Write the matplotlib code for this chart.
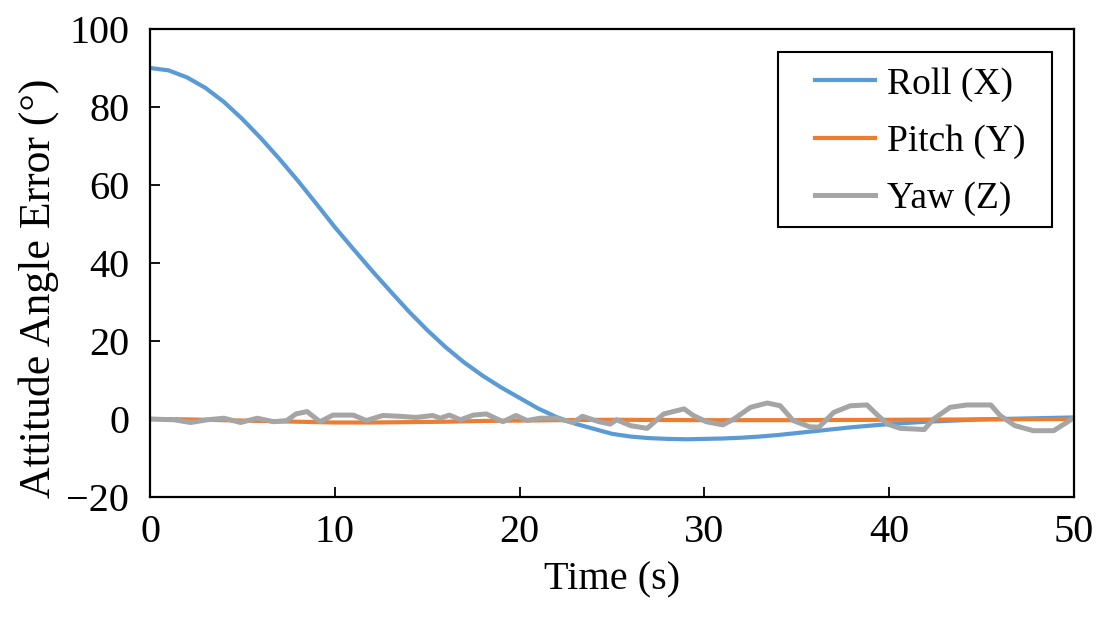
import matplotlib.pyplot as plt
from matplotlib.patches import Rectangle
from matplotlib.transforms import IdentityTransform
import numpy as np

plt.rcParams['font.family'] = ['Liberation Serif', 'DejaVu Serif']

# ---- datos ----
t_roll = np.arange(0, 51)
roll = [90.0, 89.4, 87.6, 84.9, 81.3, 76.9, 72.0, 66.7, 61.1, 55.2,
        49.2, 43.6, 38.1, 32.8, 27.6, 22.8, 18.4, 14.5, 11.1, 8.1,
        5.4, 2.7, 0.5, -1.2, -2.5, -3.8, -4.5, -4.9, -5.1, -5.2,
        -5.1, -5.0, -4.8, -4.5, -4.1, -3.6, -3.1, -2.6, -2.1, -1.7,
        -1.3, -1.0, -0.7, -0.5, -0.3, -0.1, 0.0, 0.1, 0.2, 0.3, 0.4]

t_pitch = [0, 2, 4, 6, 8, 10, 12, 14, 16, 18, 20, 22, 25, 30, 35, 40, 45, 50]
pitch = [0.0, -0.1, -0.3, -0.5, -0.7, -0.9, -0.9, -0.8, -0.7, -0.5,
         -0.4, -0.3, -0.2, -0.3, -0.3, -0.2, -0.1, 0.0]

t_yaw = [0, 1.3, 2.2, 3.1, 4.0, 4.9, 5.8, 6.7, 7.4, 7.9, 8.5, 9.2, 9.9,
         11.0, 11.7, 12.6, 13.5, 14.4, 15.3, 15.7, 16.2, 16.8, 17.5, 18.2,
         19.1, 19.8, 20.4, 21.1, 22.0, 22.9, 23.4, 24.3, 24.9, 25.25, 26.0,
         26.9, 27.8, 28.9, 29.4, 30.1, 31.0, 31.6, 32.5, 33.4, 34.1, 34.8,
         35.7, 36.2, 37.0, 37.9, 38.8, 39.3, 39.9, 40.6, 41.9, 42.4, 43.3,
         44.2, 45.5, 46.0, 46.8, 47.8, 48.9, 49.6, 50]
yaw = [0, -0.2, -0.9, -0.2, 0.2, -0.9, 0.2, -0.7, -0.4, 1.3, 1.9, -0.7, 1.0,
       1.0, -0.4, 0.9, 0.7, 0.4, 0.9, 0.2, 1.0, -0.2, 1.0, 1.3,
       -0.7, 0.9, -0.4, 0.2, 0.2, -0.9, 0.7, -0.7, -1.3, -0.2, -1.7,
       -2.4, 1.3, 2.6, 0.9, -0.7, -1.5, 0.0, 3.0, 4.1, 3.4, -0.4,
       -2.0, -2.1, 1.7, 3.4, 3.6, 1.3, -1.3, -2.4, -2.7, 0.0, 3.0,
       3.6, 3.6, 0.9, -1.7, -3.0, -3.0, -0.9, 0.4]

etiquetas = ['Roll (X)', 'Pitch (Y)', 'Yaw (Z)']
colores = ['#5B9BD5', '#ED7D31', '#A5A5A5']

# ---- figura ----
fig = plt.figure(figsize=(11.1, 6.28), dpi=100)
ax = fig.add_axes([150/1110, 1-497/628, 924/1110, 468/628])

ax.plot(t_roll, roll, color=colores[0], lw=3.0, label=etiquetas[0])
ax.plot(t_pitch, pitch, color=colores[1], lw=3.0, label=etiquetas[1])
ax.plot(t_yaw, yaw, color=colores[2], lw=3.6, label=etiquetas[2])

ax.set_xlim(0, 50)
ax.set_ylim(-20, 100)
ax.set_xticks(range(0, 51, 10))
ax.set_yticks(range(-20, 101, 20))
ax.set_yticklabels(['\u221220' if v < 0 else str(v) for v in range(-20, 101, 20)])

ax.tick_params(direction='in', length=7, width=1.3, labelsize=29)
ax.tick_params(axis='y', pad=15)
ax.tick_params(axis='x', pad=12)
for s in ax.spines.values():
    s.set_linewidth(1.6)

ax.set_xlabel('Time (s)', fontsize=29, labelpad=8)
ax.set_ylabel('Attitude Angle Error (°)', fontsize=31.5)
ax.yaxis.set_label_coords((59-150)/924, 0.445)

# ---- leyenda (marco dibujado aparte, con mas margen lateral) ----
leg = ax.legend(loc='upper right', bbox_to_anchor=((1040-150)/924, (497-52)/468),
                borderaxespad=0, fontsize=27, frameon=False,
                handlelength=1.6, handletextpad=0.3, labelspacing=0.6,
                borderpad=0.4)
fig.canvas.draw()
bb = leg.get_window_extent()
marco = Rectangle((bb.x0 - 22, bb.y0 + 4), bb.width + 34, bb.height - 4,
                  transform=IdentityTransform(), fill=False,
                  edgecolor='black', lw=1.5)
fig.patches.append(marco)

fig.savefig('out.png', dpi=100)
